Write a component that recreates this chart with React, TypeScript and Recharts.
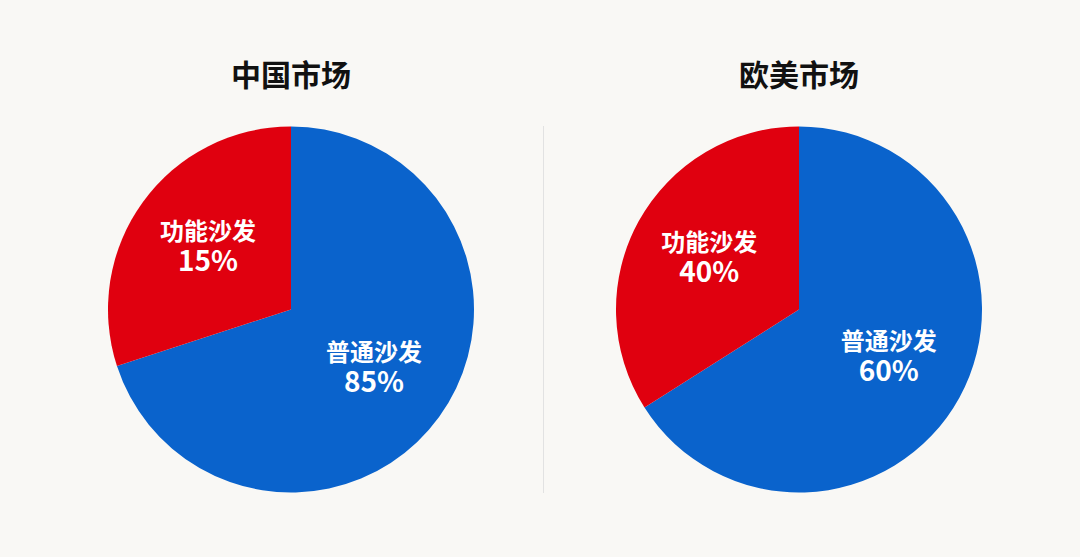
import React from 'react';
import { PieChart, Pie, Cell } from 'recharts';

// slice sizes as drawn in the picture (degrees / 3.6), printed labels kept separately
const categories = ['普通沙发', '功能沙发'];
const chinaShares = [70, 30];
const westShares = [66, 34];
const chinaLabels = ['85%', '15%'];
const westLabels = ['60%', '40%'];
const titles = ['中国市场', '欧美市场'];

const COLORS = ['#0a63cc', '#e0000f'];
const RADIAN = Math.PI / 180;
const FONT = '"Noto Sans CJK SC", "Noto Sans", sans-serif';

function buildData(shares: number[], labels: string[]) {
  return categories.map((name, i) => ({ name, value: shares[i], pct: labels[i] }));
}

function renderLabel(props: any) {
  const { cx, cy, midAngle, outerRadius, index, payload } = props;
  const r = outerRadius * 0.56;
  const x = cx + r * Math.cos(-midAngle * RADIAN);
  const y = cy + r * Math.sin(-midAngle * RADIAN) - 5;
  const pct = payload?.pct ?? props.pct;
  // one text element, two lines
  return (
    <text
      key={`lbl-${index}`}
      fill="#fff"
      textAnchor="middle"
      dominantBaseline="central"
      style={{ fontFamily: FONT, fontWeight: 700 }}
    >
      <tspan x={x} y={y - 15} fontSize={24}>
        {categories[index]}
      </tspan>
      <tspan x={x} y={y + 15} fontSize={28}>
        {pct}
      </tspan>
    </text>
  );
}

function MarketPie({ data, cx }: { data: any[]; cx: number }) {
  return (
    <PieChart width={540} height={557} margin={{ top: 0, right: 0, bottom: 0, left: 0 }}>
      <Pie
        data={data}
        dataKey="value"
        nameKey="name"
        cx={cx}
        cy={309.5}
        outerRadius={183}
        startAngle={90}
        endAngle={-270}
        stroke="none"
        label={renderLabel}
        labelLine={false}
        isAnimationActive={false}
      >
        {data.map((_, i) => (
          <Cell key={i} fill={COLORS[i]} stroke="none" />
        ))}
      </Pie>
    </PieChart>
  );
}

export default function App() {
  const chinaData = buildData(chinaShares, chinaLabels);
  const westData = buildData(westShares, westLabels);

  const titleStyle: React.CSSProperties = {
    position: 'absolute',
    top: 51,
    width: 300,
    textAlign: 'center',
    fontFamily: FONT,
    fontWeight: 700,
    fontSize: 30,
    lineHeight: '44px',
    color: '#111',
  };

  return (
    <div
      style={{
        position: 'absolute',
        left: 0,
        top: 0,
        width: 1080,
        height: 557,
        background: '#f9f8f5',
        overflow: 'hidden',
      }}
    >
      <div style={{ ...titleStyle, left: 291 - 150 }}>{titles[0]}</div>
      <div style={{ ...titleStyle, left: 799 - 150 }}>{titles[1]}</div>
      <div
        style={{
          position: 'absolute',
          left: 543,
          top: 126,
          width: 1,
          height: 367,
          background: '#e2e2e2',
        }}
      />
      <div style={{ position: 'absolute', left: 0, top: 0 }}>
        <MarketPie data={chinaData} cx={291} />
      </div>
      <div style={{ position: 'absolute', left: 540, top: 0 }}>
        <MarketPie data={westData} cx={259} />
      </div>
    </div>
  );
}
